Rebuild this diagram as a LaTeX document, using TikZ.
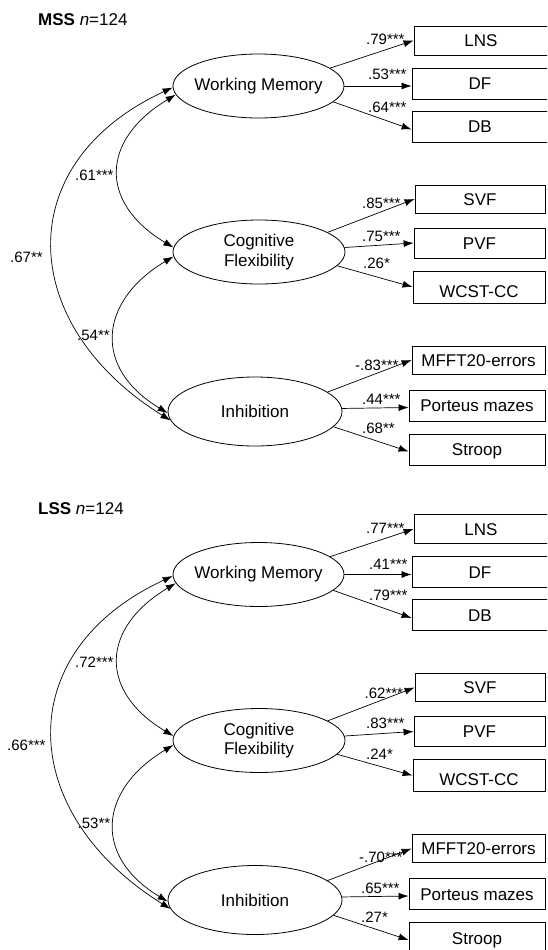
\documentclass[tikz,border=0pt]{standalone}
\usepackage{fontspec}
\setmainfont{Liberation Sans}
\usetikzlibrary{arrows.meta,shapes.geometric}
\begin{document}
\begin{tikzpicture}[x=1pt,y=-1pt,
  lat/.style={draw, ellipse, line width=0.8pt, inner sep=0pt, font=\fontsize{17}{19.5}\selectfont, align=center},
  obs/.style={draw, rectangle, line width=0.8pt, inner sep=0pt, font=\fontsize{17}{20}\selectfont, text height=12.2pt, text depth=0pt},
  lab/.style={anchor=base west, inner sep=0pt, font=\fontsize{15}{18}\selectfont},
  ttl/.style={anchor=base west, inner sep=0pt, font=\fontsize{17}{20}\selectfont},
  ld/.style={line width=0.7pt, -{Latex[length=10pt,width=7pt]}},
  cov/.style={line width=0.7pt, {Latex[length=10pt,width=7pt]}-{Latex[length=10pt,width=7pt]}}
]
\useasboundingbox (0,0) rectangle (547,950);
\clip (0,0) rectangle (547,950);

% ---------------- MSS ----------------
\node[ttl] (mtitle) at (38,26) {\textbf{MSS} \textit{n}=124};
\node[lat, minimum width=171pt, minimum height=64pt] (mwm) at (258.5,86) {\makebox[0pt]{Working Memory}};
\node[lat, minimum width=172pt, minimum height=64pt] (mcf) at (259,252) {Cognitive\\Flexibility};
\node[lat, minimum width=174pt, minimum height=69pt] (minh) at (255,411.5) {Inhibition};

\node[obs, minimum width=134pt, minimum height=29pt] (mlns) at (481,40.5) {LNS};
\node[obs, minimum width=136pt, minimum height=31pt] (mdf) at (480,83.5) {DF};
\node[obs, minimum width=136pt, minimum height=31pt] (mdb) at (480,126.5) {DB};
\node[obs, minimum width=130pt, minimum height=28pt] (msvf) at (480,199) {SVF};
\node[obs, minimum width=131pt, minimum height=30pt] (mpvf) at (479.5,243) {PVF};
\node[obs, minimum width=132pt, minimum height=32pt] (mwcst) at (479,287) {\raisebox{-4pt}{WCST-CC}};
\node[obs, minimum width=133pt, minimum height=28pt] (mmfft) at (478.5,360) {MFFT20-errors};
\node[obs, minimum width=136pt, minimum height=31pt] (mpm) at (477,405.5) {Porteus mazes};
\node[obs, minimum width=136pt, minimum height=31pt] (mstroop) at (477,449.5) {Stroop};

\draw[ld] (mwm.14) -- (mlns.west);
\draw[ld] (mwm.east) -- (mwm.east -| mdf.west);
\draw[ld] (mwm.-12) -- ([yshift=-3pt]mdb.west);
\draw[ld] (mcf.16) -- (msvf.west);
\draw[ld] (mcf.3) -- (mpvf.west);
\draw[ld] (mcf.-10) -- (mwcst.west);
\draw[ld] (minh.15) -- (mmfft.west);
\draw[ld] (minh.2) -- ([yshift=-2pt]mpm.west);
\draw[ld] (minh.-11) -- ([yshift=-2pt]mstroop.west);

\draw[cov] (mwm.181) .. controls +(-164,76) and +(-153,-95) .. (minh.186);
\draw[cov] (mwm.186) .. controls +(-75,45) and +(-75,-45) .. (mcf.177);
\draw[cov] (mcf.183) .. controls +(-75,45) and +(-75,-45) .. (minh.181);

\node[lab] (ml1) at (366,45) {.79***};
\node[lab] (ml2) at (368,80) {.53***};
\node[lab] (ml3) at (368,112) {.64***};
\node[lab] (ml4) at (362,208) {.85***};
\node[lab] (ml5) at (362,241) {.75***};
\node[lab] (ml6) at (363,268) {.26*};
\node[lab] (ml7) at (355,370) {-.83***};
\node[lab] (ml8) at (362,404) {.44***};
\node[lab] (ml9) at (362,433) {.68**};
\node[lab] (mc1) at (75,180) {.61***};
\node[lab] (mc2) at (10,262) {.67**};
\node[lab] (mc3) at (77,340) {.54**};

% ---------------- LSS ----------------
\begin{scope}[shift={(0,488.5)}]
\node[ttl] (ltitle) at (38,25.5) {\textbf{LSS} \textit{n}=124};
\node[lat, minimum width=171pt, minimum height=64pt] (lwm) at (258.5,86) {\makebox[0pt]{Working Memory}};
\node[lat, minimum width=172pt, minimum height=64pt] (lcf) at (259,252) {Cognitive\\Flexibility};
\node[lat, minimum width=174pt, minimum height=69pt] (linh) at (255,411.5) {Inhibition};

\node[obs, minimum width=134pt, minimum height=29pt] (llns) at (481,40.5) {LNS};
\node[obs, minimum width=136pt, minimum height=31pt] (ldf) at (480,83.5) {DF};
\node[obs, minimum width=136pt, minimum height=31pt] (ldb) at (480,126.5) {DB};
\node[obs, minimum width=130pt, minimum height=28pt] (lsvf) at (480,199) {SVF};
\node[obs, minimum width=131pt, minimum height=30pt] (lpvf) at (479.5,243) {PVF};
\node[obs, minimum width=132pt, minimum height=32pt] (lwcst) at (479,287) {\raisebox{-4pt}{WCST-CC}};
\node[obs, minimum width=133pt, minimum height=28pt] (lmfft) at (478.5,360) {MFFT20-errors};
\node[obs, minimum width=136pt, minimum height=31pt] (lpm) at (477,405.5) {Porteus mazes};
\node[obs, minimum width=136pt, minimum height=31pt] (lstroop) at (477,449.5) {Stroop};

\draw[ld] (lwm.14) -- (llns.west);
\draw[ld] (lwm.east) -- (lwm.east -| ldf.west);
\draw[ld] (lwm.-12) -- ([yshift=-3pt]ldb.west);
\draw[ld] (lcf.16) -- (lsvf.west);
\draw[ld] (lcf.3) -- (lpvf.west);
\draw[ld] (lcf.-10) -- (lwcst.west);
\draw[ld] (linh.15) -- (lmfft.west);
\draw[ld] (linh.2) -- ([yshift=-2pt]lpm.west);
\draw[ld] (linh.-11) -- ([yshift=-2pt]lstroop.west);

\draw[cov] (lwm.181) .. controls +(-164,76) and +(-153,-95) .. (linh.186);
\draw[cov] (lwm.186) .. controls +(-75,45) and +(-75,-45) .. (lcf.177);
\draw[cov] (lcf.183) .. controls +(-75,45) and +(-75,-45) .. (linh.181);

\node[lab] (ll1) at (366,44.5) {.77***};
\node[lab] (ll2) at (369,80.5) {.41***};
\node[lab] (ll3) at (369,112) {.79***};
\node[lab] (ll4) at (364.5,210) {.62***};
\node[lab] (ll5) at (366,240) {.83***};
\node[lab] (ll6) at (366,271) {.24*};
\node[lab] (ll7) at (359,373.5) {-.70***};
\node[lab] (ll8) at (361,405) {.65***};
\node[lab] (ll9) at (361,433.5) {.27*};
\node[lab] (lc1) at (75,179) {.72***};
\node[lab] (lc2) at (7,261.5) {.66***};
\node[lab] (lc3) at (77.5,339.5) {.53**};
\end{scope}
\end{tikzpicture}
\end{document}
